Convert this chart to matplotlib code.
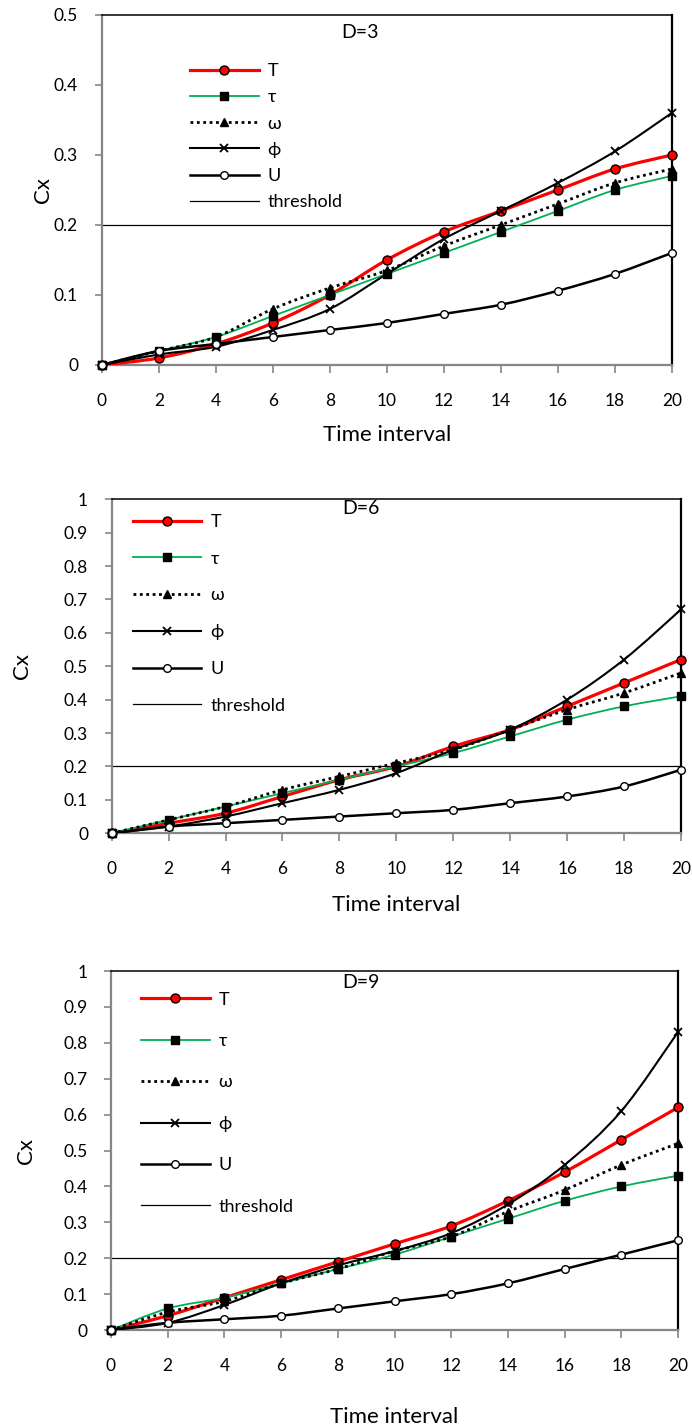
import numpy as np
import matplotlib
matplotlib.use("Agg")
import matplotlib.pyplot as plt
from matplotlib.path import Path
from matplotlib.patches import PathPatch
from matplotlib.lines import Line2D

plt.rcParams['font.family'] = ['Lato', 'DejaVu Sans']

# data
time = [0, 2, 4, 6, 8, 10, 12, 14, 16, 18, 20]
threshold = 0.2
labels = ['T', 'τ', 'ω', 'ϕ', 'U']

d3_T = [0, 0.01, 0.03, 0.06, 0.10, 0.15, 0.19, 0.22, 0.25, 0.28, 0.30]
d3_tau = [0, 0.02, 0.04, 0.07, 0.10, 0.13, 0.16, 0.19, 0.22, 0.25, 0.27]
d3_omega = [0, 0.02, 0.04, 0.08, 0.11, 0.135, 0.17, 0.20, 0.23, 0.26, 0.28]
d3_phi = [0, 0.015, 0.026, 0.05, 0.08, 0.13, 0.18, 0.22, 0.26, 0.305, 0.36]
d3_U = [0, 0.02, 0.03, 0.04, 0.05, 0.06, 0.073, 0.086, 0.106, 0.13, 0.16]

d6_T = [0, 0.03, 0.06, 0.11, 0.16, 0.20, 0.26, 0.31, 0.38, 0.45, 0.52]
d6_tau = [0, 0.04, 0.08, 0.12, 0.16, 0.20, 0.24, 0.29, 0.34, 0.38, 0.41]
d6_omega = [0, 0.04, 0.08, 0.13, 0.17, 0.21, 0.25, 0.31, 0.37, 0.42, 0.48]
d6_phi = [0, 0.02, 0.05, 0.09, 0.13, 0.18, 0.25, 0.31, 0.40, 0.52, 0.67]
d6_U = [0, 0.02, 0.03, 0.04, 0.05, 0.06, 0.07, 0.09, 0.11, 0.14, 0.19]

d9_T = [0, 0.04, 0.09, 0.14, 0.19, 0.24, 0.29, 0.36, 0.44, 0.53, 0.62]
d9_tau = [0, 0.06, 0.09, 0.13, 0.17, 0.21, 0.26, 0.31, 0.36, 0.40, 0.43]
d9_omega = [0, 0.05, 0.08, 0.13, 0.17, 0.22, 0.26, 0.33, 0.39, 0.46, 0.52]
d9_phi = [0, 0.02, 0.07, 0.13, 0.18, 0.22, 0.27, 0.35, 0.46, 0.61, 0.83]
d9_U = [0, 0.02, 0.03, 0.04, 0.06, 0.08, 0.10, 0.13, 0.17, 0.21, 0.25]

styles = [
    dict(color='#FF0000', lw=2.3, ls='-', marker='o', mfc='#FF0000', mec='black', ms=6.5, mew=1.0),
    dict(color='#00B050', lw=1.3, ls='-', marker='s', mfc='black', mec='black', ms=5.5, mew=1.0),
    dict(color='black', lw=2.0, ls=(0, (1, 1.3)), marker='^', mfc='black', mec='black', ms=6, mew=1.0),
    dict(color='black', lw=1.5, ls='-', marker='x', mfc='black', mec='black', ms=6, mew=1.3),
    dict(color='black', lw=1.8, ls='-', marker='o', mfc='white', mec='black', ms=5.5, mew=1.0),
]


def smooth_path(x, y):
    # Excel-like smoothed line: cubic Bezier through the points
    pts = np.column_stack([x, y]).astype(float)
    n = len(pts)
    verts = [pts[0]]
    codes = [Path.MOVETO]
    for i in range(n - 1):
        p0 = pts[i - 1] if i > 0 else pts[i]
        p1, p2 = pts[i], pts[i + 1]
        p3 = pts[i + 2] if i + 2 < n else pts[i + 1]
        verts += [p1 + (p2 - p0) / 6, p2 - (p3 - p1) / 6, p2]
        codes += [Path.CURVE4] * 3
    return Path(verts, codes)


panels = [
    dict(title='D=3', series=[d3_T, d3_tau, d3_omega, d3_phi, d3_U], ymax=0.5,
         rect=[0.147, 0.7444, 0.8237, 0.2451], title_xy=(0.453, 0.949),
         leg_xy=(0.155, 0.863), leg_sp=0.57, ylab_x=-0.103, xlab_y=-0.20),
    dict(title='D=6', series=[d6_T, d6_tau, d6_omega, d6_phi, d6_U], ymax=1.0,
         rect=[0.1614, 0.4165, 0.8227, 0.2339], title_xy=(0.437, 0.971),
         leg_xy=(0.037, 0.956), leg_sp=1.15, ylab_x=-0.158, xlab_y=-0.215),
    dict(title='D=9', series=[d9_T, d9_tau, d9_omega, d9_phi, d9_U], ymax=1.0,
         rect=[0.1604, 0.0686, 0.8194, 0.2514], title_xy=(0.44, 0.969),
         leg_xy=(0.053, 0.943), leg_sp=1.41, ylab_x=-0.150, xlab_y=-0.242),
]

fig = plt.figure(figsize=(6.92, 14.28), dpi=100)

for p in panels:
    ax = fig.add_axes(p['rect'])
    handles = []
    for k, (vals, st) in enumerate(zip(p['series'], styles)):
        patch = PathPatch(smooth_path(time, vals), fill=False, edgecolor=st['color'],
                          lw=st['lw'], linestyle=st['ls'], zorder=3 + 2 * k,
                          capstyle='butt')
        ax.add_patch(patch)
        ax.plot(time, vals, linestyle='none', marker=st['marker'], mfc=st['mfc'],
                mec=st['mec'], ms=st['ms'], mew=st['mew'], zorder=4 + 2 * k,
                clip_on=False)
        handles.append(Line2D([], [], color=st['color'], lw=st['lw'], ls=st['ls'],
                              marker=st['marker'], mfc=st['mfc'], mec=st['mec'],
                              ms=st['ms'], mew=st['mew']))
    ax.axhline(threshold, color='black', lw=0.9, zorder=2)
    handles.append(Line2D([], [], color='black', lw=0.9))

    ax.set_xlim(0, 20)
    ax.set_ylim(0, p['ymax'])
    ax.set_xticks(time)
    ax.set_yticks(np.arange(0, p['ymax'] + 0.001, 0.1))
    ax.yaxis.set_major_formatter(plt.FuncFormatter(lambda v, pos: f'{v:g}'))
    ax.tick_params(axis='x', direction='out', length=6, width=1.2, color='#868686',
                   labelsize=12.5, pad=14)
    ax.tick_params(axis='y', direction='out', length=5, width=1.2, color='#868686',
                   labelsize=12.5, pad=12)
    for side in ['left', 'bottom']:
        ax.spines[side].set_color('#868686')
        ax.spines[side].set_linewidth(1.6)
    ax.spines['top'].set_linewidth(1.1)
    ax.spines['right'].set_linewidth(1.6)

    ax.set_ylabel('Cx', fontsize=16, va='center')
    ax.yaxis.set_label_coords(p['ylab_x'], 0.5)
    ax.set_xlabel('Time interval', fontsize=16, va='center')
    ax.xaxis.set_label_coords(0.5, p['xlab_y'])
    ax.text(p['title_xy'][0], p['title_xy'][1], p['title'], transform=ax.transAxes,
            fontsize=14, ha='center', va='center')

    ax.legend(handles, labels + ['threshold'], loc='upper left',
              bbox_to_anchor=p['leg_xy'], frameon=False, fontsize=13,
              numpoints=1, handlelength=3.8, handletextpad=0.5,
              labelspacing=p['leg_sp'], borderpad=0, borderaxespad=0)

fig.savefig('out.png', dpi=100)
